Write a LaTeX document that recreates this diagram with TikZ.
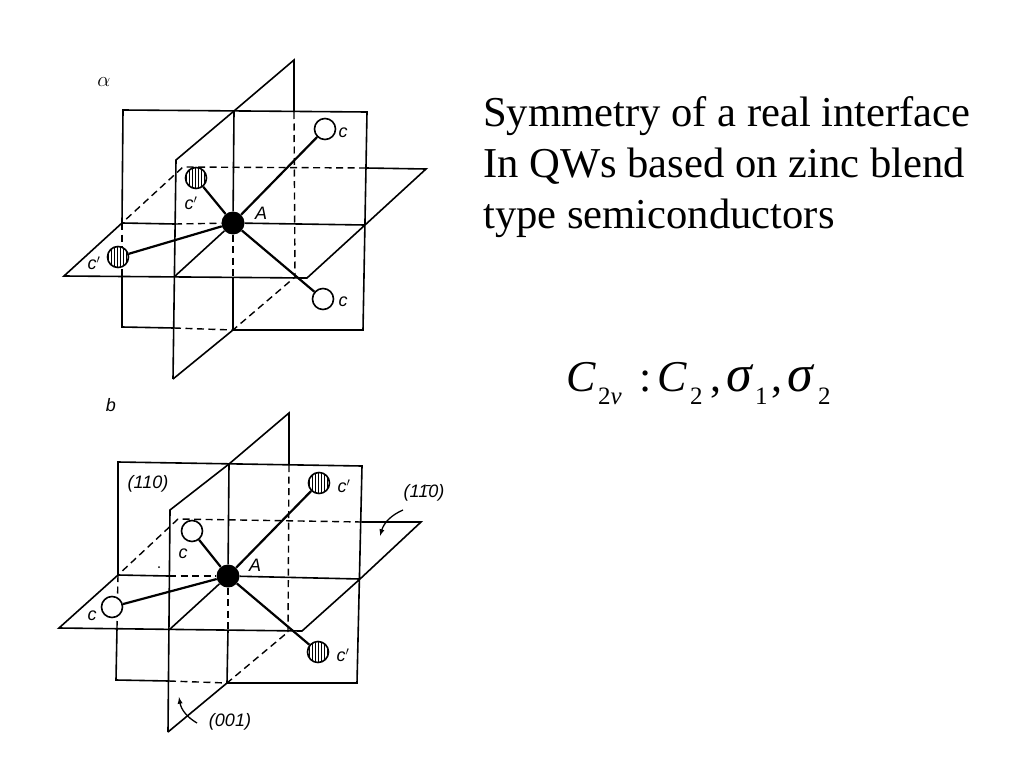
\documentclass[tikz,border=0pt]{standalone}
\usepackage{fontspec}
\setmainfont{Liberation Serif}
\newfontfamily\labelfont{Liberation Sans}
\usetikzlibrary{arrows, patterns}
\tikzset{
	edge/.style={line width=1.6pt},
	hidden/.style={line width=1.4pt, dash pattern=on 7pt off 4.5pt},
	bond/.style={line width=2.2pt},
	centre/.style={circle, fill=black, inner sep=0pt, minimum size=23pt},
	open/.style={circle, draw, line width=1.6pt, fill=white, inner sep=0pt, minimum size=21pt},
	striped/.style={open, postaction={pattern=vertical lines}},
	tag/.style={font=\labelfont\itshape\fontsize{18}{18}\selectfont, inner sep=0pt},
	say/.style={font=\fontsize{42.6}{42.6}\selectfont, anchor=base west, inner sep=0pt},
	sym/.style={font=\fontsize{44}{44}\selectfont\itshape, anchor=base west, inner sep=0pt},
	sub/.style={font=\fontsize{25}{25}\selectfont, anchor=base west, inner sep=0pt}
}

\begin{document}
\begin{tikzpicture}[x=1pt, y=-1pt]
			\useasboundingbox (0,0) rectangle (1024,768);
			\foreach \n/\x/\y in {ftl/123/110, ftr/367/112, fbr/363/330, fbl/122/327, top/294/60, vtr/294/112, vtm/234/111, vtl/176/160, vbl/173/379, vbm/233/330, vbr/295/277, bvl/174/328, hl/64/276, hr/426/169, hbr/307/278, hmr/365/225, hml/122/223, htl/183/167, htr/366/168, hlc/122/276, vml/175/224, vhl/174/277, mid/233/277}{
				\coordinate (a\n) at (\x,\y);
			}
			\foreach \n/\x/\y in {ftl/118/462, ftr/362/466, fbr/357/683, fbl/116/680, top/289/413, vtr/289/465, vtm/229/464, vtl/170/510, vbl/168/732, vbm/227/683, vbr/288/632, bvl/169/681, hl/59/628, hr/421/522, hbr/302/631, hmr/360/579, hml/118/575, htl/178/519, htr/362/522, hlc/117/628, vml/169/576, vhl/169/630, mid/228/630}{
				\coordinate (b\n) at (\x,\y);
			}
			\node[centre] (aA) at (233,223) {};
			\node[centre] (bA) at (228,576) {};
			\foreach \p in {a,b}{
				\draw[edge] (\p vbl) -- (\p vtl) -- (\p vtm) -- (\p top) -- (\p vtr);
				\draw[edge] (\p vbl) -- (\p vbm) -- (\p fbr) -- (\p ftr) -- (\p ftl) -- (\p hml) -- (\p hl) -- (\p hbr) -- (\p hmr) -- (\p hr) -- (\p htr);
				\draw[edge] (\p hlc) -- (\p fbl) -- (\p bvl);
				\draw[edge] (\p hml) -- (\p vml);
				\draw[edge] (\p A) -- (\p hmr);
				\draw[edge] (\p vtm) -- (\p A);
				\draw[edge] (\p mid) -- (\p vbm);
				\draw[edge] (\p vhl) -- (\p A);
				\draw[hidden] (\p hml) -- (\p hlc);
				\draw[hidden] (\p bvl) -- (\p vbm) -- (\p vbr);
				\draw[hidden] (\p vtr) -- (\p vbr);
				\draw[hidden] (\p htr) -- (\p htl) -- (\p hml);
				\draw[hidden] (\p vml) -- (\p A);
				\draw[hidden] (\p A) -- (\p mid);
			}
			\node[open] (ac1) at (325,129) {};
			\node[open] (ac2) at (323,299) {};
			\node[striped] (ad1) at (196,178) {};
			\node[striped] (ad2) at (118,257) {};
			\node[striped] (bd1) at (319,483) {};
			\node[striped] (bd2) at (318,652) {};
			\node[open] (bc1) at (192,531) {};
			\node[open] (bc2) at (112,607) {};
			\foreach \p/\q in {a/ac1, a/ac2, a/ad1, a/ad2, b/bd1, b/bd2, b/bc1, b/bc2}{
				\draw[bond] (\p A) -- (\q);
			}
			\node[tag] (alpha) at (104,82) {\fontsize{20}{20}\selectfont$\alpha$};
			\node[tag] (ac1t) at (343,133) {c};
			\node[tag] (ad1t) at (191,203) {c$'$};
			\node[tag] (aAt) at (261,213) {A};
			\node[tag] (ad2t) at (94,263) {c$'$};
			\node[tag] (ac2t) at (343,302) {c};
			\node[tag] (beta) at (111,405) {b};
			\node[tag] (plane1) at (148,484) {(110)};
			\node[tag] (bd1t) at (344,486) {c$'$};
			\node[tag] (plane2) at (424,493) {(1\={1}0)};
			\node[tag] (bc1t) at (183,554) {c};
			\node[tag] (bAt) at (255,565) {A};
			\node[tag] (bc2t) at (92,616) {c};
			\node[tag] (bd2t) at (343,655) {c$'$};
			\node[tag] (plane3) at (230,722) {(001)};
			\fill (159,567) circle (1);
			\coordinate (arr1) at (403,510);
			\coordinate (arr2) at (380,536);
			\coordinate (arr3) at (197,723);
			\coordinate (arr4) at (179,697);
			\draw[line width=1.3pt, -latex] (arr1) to[bend right=25] (arr2);
			\draw[line width=1.3pt, -latex] (arr3) to[bend left=25] (arr4);
			\node[say] (line1) at (483,126) {Symmetry of a real interface};
			\node[say] (line2) at (483,177) {In QWs based on zinc blend};
			\node[say] (line3) at (483,228) {type semiconductors};
			\node[sym] (s1) at (566,391) {C};
			\node[sub] (s2) at (598,404) {2\textit{v}};
			\node[sym, font=\fontsize{44}{44}\selectfont] (s3) at (639,391) {:};
			\node[sym] (s4) at (657,391) {C};
			\node[sub] (s5) at (690,404) {2};
			\node[sym, font=\fontsize{44}{44}\selectfont] (s6) at (710,391) {,};
			\node[sym, font=\fontsize{52}{52}\selectfont\itshape] (s7) at (726,391) {σ};
			\node[sub] (s8) at (755,404) {1};
			\node[sym, font=\fontsize{44}{44}\selectfont] (s9) at (771,391) {,};
			\node[sym, font=\fontsize{52}{52}\selectfont\itshape] (s10) at (787,391) {σ};
			\node[sub] (s11) at (818,404) {2};
		\end{tikzpicture}
\end{document}
